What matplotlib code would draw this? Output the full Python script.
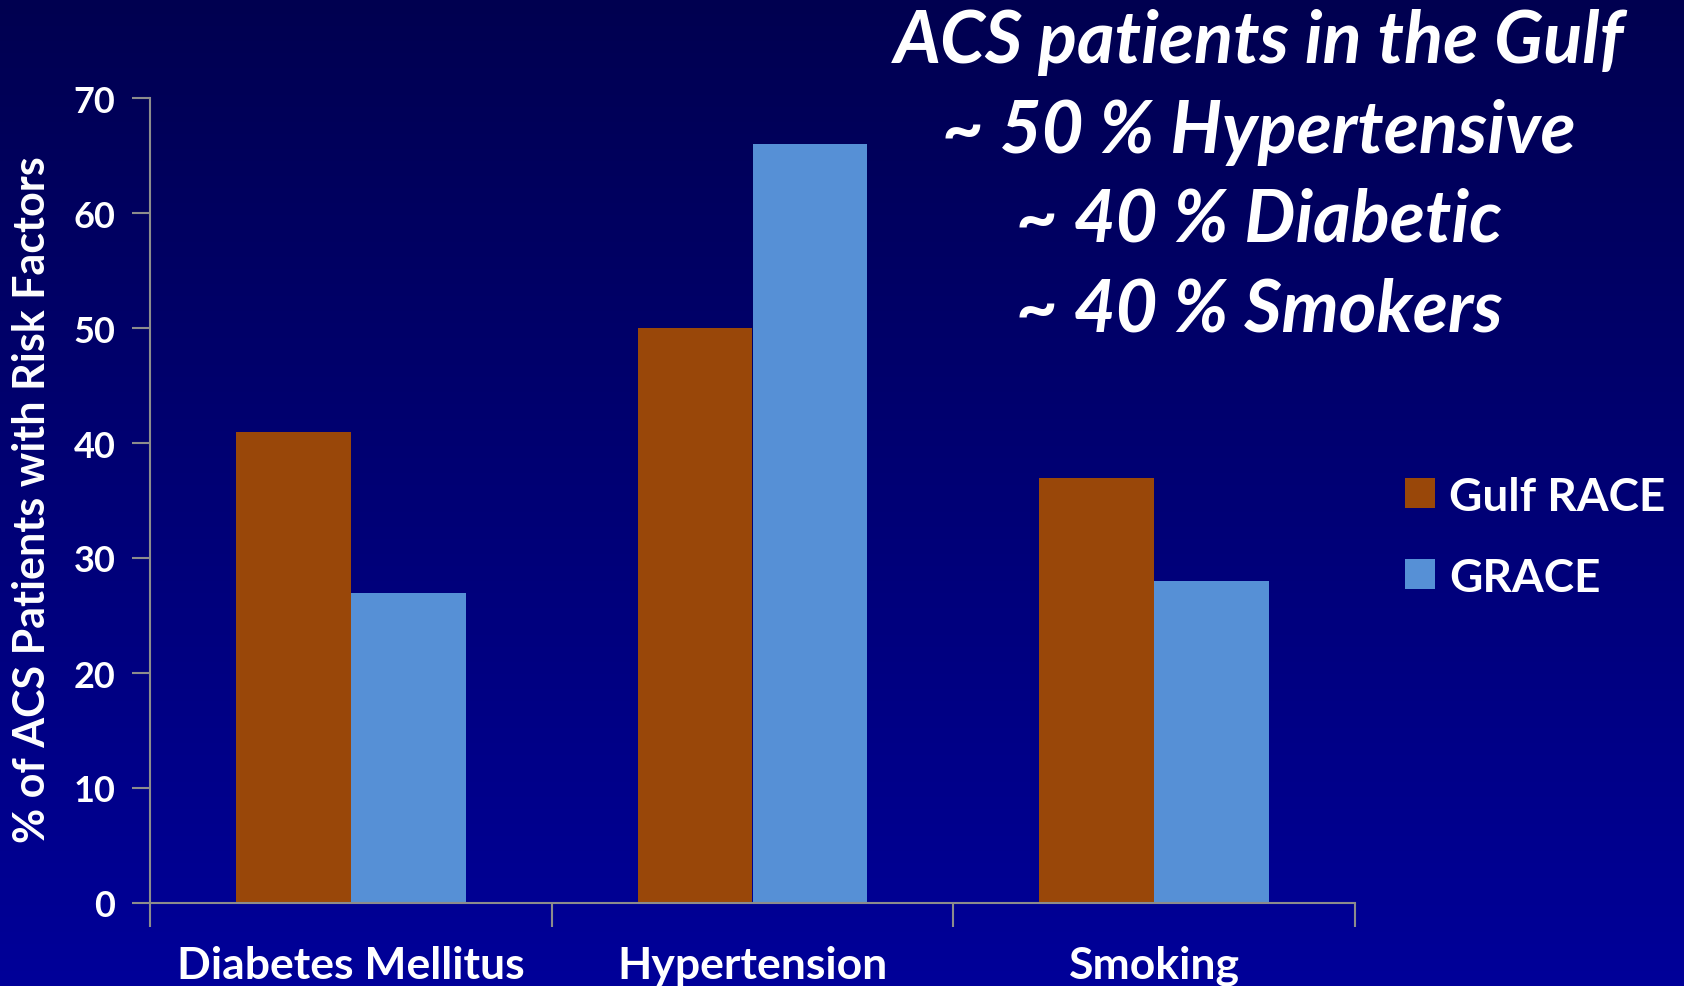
import numpy as np
import matplotlib
matplotlib.use("Agg")
import matplotlib.pyplot as plt
from matplotlib.patches import Rectangle

plt.rcParams['font.family'] = ['Lato', 'DejaVu Sans']

categories = ["Diabetes Mellitus", "Hypertension", "Smoking"]
series_names = ["Gulf RACE", "GRACE"]
gulf_race = [41, 50, 37]
grace = [27, 66, 28]
y_ticks = [0, 10, 20, 30, 40, 50, 60, 70]
y_label = "% of ACS Patients with Risk Factors"
headline = ["ACS patients in the Gulf", "~ 50 % Hypertensive",
            "~ 40 % Diabetic", "~ 40 % Smokers"]

colors = ["#994709", "#5690D6"]
W, H = 1684, 987
fig = plt.figure(figsize=(W / 100, H / 100), dpi=100)

# Vertical navy gradient background
bg = fig.add_axes([0, 0, 1, 1], zorder=-10)
grad = np.linspace(0, 1, 256).reshape(-1, 1)
top = np.array([0, 0, 80]) / 255
bottom = np.array([0, 0, 153]) / 255
img = top + (bottom - top) * grad[..., None]
bg.imshow(img, aspect="auto", extent=[0, 1, 0, 1], origin="upper")
bg.axis("off")

# Plot area in pixel coordinates
x0, x1, ytop, ybot = 150, 1355, 99, 904
ax = fig.add_axes([x0 / W, (H - ybot) / H, (x1 - x0) / W, (ybot - ytop) / H])
ax.patch.set_alpha(0)

x = np.arange(len(categories))
bw = 0.2855
ax.bar(x - bw / 2, gulf_race, bw, color=colors[0], zorder=2)
ax.bar(x + bw / 2, grace, bw, color=colors[1], zorder=2)

ax.set_xlim(-0.5, len(categories) - 0.5)
ax.set_ylim(0, 70)
ax.set_yticks(y_ticks)
ax.set_yticklabels([str(v) for v in y_ticks], fontsize=26, fontweight="bold", color="white")

ax.set_xticks(x)
ax.set_xticklabels(categories, fontsize=32, fontweight="bold", color="white")
ax.tick_params(axis="x", which="major", length=0, pad=30)
ax.set_xticks(np.arange(-0.5, len(categories)), minor=True)
ax.tick_params(axis="x", which="minor", length=17, width=1.5, color="#8c8c8c", direction="out")
ax.tick_params(axis="y", length=13, width=1.5, color="#8c8c8c", direction="out", pad=12)

for s in ["top", "right"]:
    ax.spines[s].set_visible(False)
for s in ["left", "bottom"]:
    ax.spines[s].set_color("#8c8c8c")
    ax.spines[s].set_linewidth(1.5)

fig.text(32 / W, 1 - 500 / H, y_label, rotation=90, ha="center", va="center",
         fontsize=31, fontweight="bold", color="white")

# Legend: colour squares with series names
leg_rows = [494, 575]
sq = 30
for name, c, yc in zip(series_names, colors, leg_rows):
    fig.add_artist(Rectangle((1405 / W, 1 - (yc + sq / 2) / H), sq / W, sq / H,
                             transform=fig.transFigure, facecolor=c, edgecolor="none"))
    fig.text(1449 / W, 1 - yc / H, name, ha="left", va="center_baseline",
             fontsize=33, fontweight="bold", color="white")

# Headline text block
line_y = [43, 132, 221, 311]
for txt, yy in zip(headline, line_y):
    fig.text(1259 / W, 1 - yy / H, txt, ha="center", va="center", fontsize=52,
             fontweight="bold", fontstyle="italic", color="white")

fig.savefig("out.png", dpi=100)
